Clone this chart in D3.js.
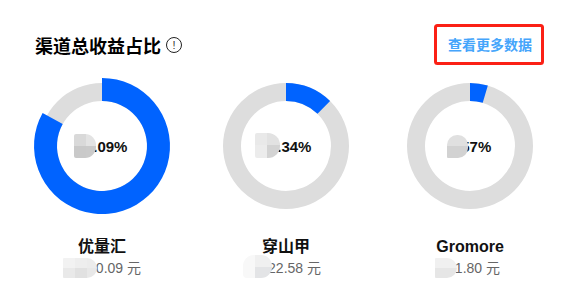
<!DOCTYPE html>
<html>
<head>
<meta charset="utf-8">
<script src="https://cdn.jsdelivr.net/npm/d3@7"></script>
<style>
  html, body { margin: 0; padding: 0; background: #fff; }
  svg { display: block; }
  text { font-family: "Liberation Sans", "Noto Sans CJK SC", sans-serif; }
</style>
</head>
<body>
<svg id="chart" width="562" height="294"></svg>
<script>
/* global d3 */
var channels = ["优量汇", "穿山甲", "Gromore"]
  , shares = [83.09, 12.34, 4.57]
  , shareLabels = ["83.09%", "12.34%", "4.57%"]
  , amountLabels = ["0.09 元", "22.58 元", "1.80 元"]
  , titleText = "渠道总收益占比"
  , linkText = "查看更多数据"
;

// Right edge of each amount, from the donut centre. The leading digits are
// under the patches so the strings can't simply be centred.
var amountEnds = [39, 35, 30];

// Redaction patches that sit on top of the figures: [x, y, w, h, [tl, tr, br, bl], cells]
// each cell: [x, y, w, h, colour]
var patches = [
    [74, 134, 22, 24, [2, 11, 11, 2], [
        [74, 134, 12, 12, "#d9d9d9"], [86, 134, 10, 12, "#e3e3e3"],
        [74, 146, 12, 12, "#c9c9c9"], [86, 146, 10, 12, "#cacaca"]]],
    [255, 133, 25, 25, [2, 12, 12, 2], [
        [255, 133, 12, 12, "#e9e9e9"], [267, 133, 13, 12, "#e2e2e2"],
        [255, 145, 12, 13, "#ececec"], [267, 145, 13, 13, "#d3d3d3"]]],
    [447, 135, 21, 23, [10, 10, 10, 1], [
        [447, 135, 21, 11, "#e0e0e0"], [447, 146, 21, 12, "#d2d2d2"]]],
    [63, 258, 34, 20, [1, 10, 10, 1], [
        [63, 258, 12, 10, "#f2f2f2"], [75, 258, 12, 10, "#eeeeee"], [87, 258, 10, 10, "#ececec"],
        [63, 268, 12, 10, "#e9e9e9"], [75, 268, 12, 10, "#e1e1e1"], [87, 268, 10, 10, "#e8e8e8"]]],
    [243, 255, 29, 23, [11, 11, 11, 4], [
        [243, 255, 12, 23, "#f8f8f8"], [255, 255, 17, 12, "#f0f0f0"],
        [255, 267, 17, 11, "#e3e4e6"]]],
    [435, 258, 22, 20, [1, 10, 10, 1], [
        [435, 258, 22, 10, "#f0f0f0"], [435, 268, 22, 10, "#e6e6e6"]]]
];

var svg = d3.select("#chart")
  , cy = 146
  , x = d3.scalePoint().domain(channels).range([102, 470])
  , angle = d3.scaleLinear().domain([0, 100]).range([0, 2 * Math.PI])
;

// Title and info icon
svg.append("text")
    .attr("x", 35).attr("y", 52.5)
    .attr("font-size", 18).attr("font-weight", 700).attr("fill", "#000")
    .text(titleText);

var info = svg.append("g").attr("transform", "translate(174,45)");
info.append("circle").attr("r", 7.5)
    .attr("fill", "none").attr("stroke", "#222").attr("stroke-width", 1);
info.append("text")
    .attr("text-anchor", "middle").attr("y", 4)
    .attr("font-size", 11).attr("fill", "#333")
    .text("!");

// Link with the red box round it
svg.append("rect")
    .attr("x", 435.5).attr("y", 25.5).attr("width", 107).attr("height", 38).attr("rx", 2)
    .attr("fill", "none").attr("stroke", "#fb2015").attr("stroke-width", 3);
svg.append("text")
    .attr("x", 448).attr("y", 50)
    .attr("font-size", 14).attr("font-weight", 700).attr("fill", "#45a5fb")
    .text(linkText);

// Donuts
var donut = svg.selectAll("g.donut")
    .data(channels)
  .enter().append("g")
    .attr("class", "donut")
    .attr("transform", function(d) { return "translate(" + x(d) + "," + cy + ")"; })
;

donut.append("path")
    .attr("fill", "#dddddd")
    .attr("d", d3.arc()({ innerRadius: 45, outerRadius: 63, startAngle: 0, endAngle: 2 * Math.PI }));

donut.append("path")
    .attr("fill", "#0063ff")
    .attr("d", function(d, i) {
        // The biggest share gets a wider ring
        var big = shares[i] === d3.max(shares);
        return d3.arc()({
            innerRadius: 45,
            outerRadius: big ? 68 : 63,
            startAngle: 0,
            endAngle: angle(shares[i])
        });
    });

donut.append("text")
    .attr("text-anchor", "middle").attr("y", 5.5)
    .attr("font-size", 15).attr("font-weight", 700).attr("fill", "#111")
    .text(function(d, i) { return shareLabels[i]; });

donut.append("text")
    .attr("text-anchor", "middle").attr("y", 106)
    .attr("font-size", 16).attr("font-weight", 700).attr("fill", "#111")
    .text(function(d) { return d; });

donut.append("text")
    .attr("text-anchor", "end").attr("x", function(d, i) { return amountEnds[i]; }).attr("y", 127)
    .attr("font-size", 14).attr("fill", "#666")
    .text(function(d, i) { return amountLabels[i]; });

// Redaction patches
function roundedPath(p) {
    var px = p[0], py = p[1], w = p[2], h = p[3], r = p[4]
      , path = d3.path();
    path.moveTo(px + r[0], py);
    path.lineTo(px + w - r[1], py);
    path.arcTo(px + w, py, px + w, py + r[1], r[1]);
    path.lineTo(px + w, py + h - r[2]);
    path.arcTo(px + w, py + h, px + w - r[2], py + h, r[2]);
    path.lineTo(px + r[3], py + h);
    path.arcTo(px, py + h, px, py + h - r[3], r[3]);
    path.lineTo(px, py + r[0]);
    path.arcTo(px, py, px + r[0], py, r[0]);
    path.closePath();
    return path.toString();
}

var defs = svg.append("defs");
patches.forEach(function(p, i) {
    defs.append("clipPath").attr("id", "patch-" + i)
      .append("path").attr("d", roundedPath(p));
    svg.append("g")
        .attr("clip-path", "url(#patch-" + i + ")")
      .selectAll("rect")
        .data(p[5])
      .enter().append("rect")
        .attr("x", function(c) { return c[0]; })
        .attr("y", function(c) { return c[1]; })
        .attr("width", function(c) { return c[2]; })
        .attr("height", function(c) { return c[3]; })
        .attr("fill", function(c) { return c[4]; });
});
</script>
</body>
</html>
